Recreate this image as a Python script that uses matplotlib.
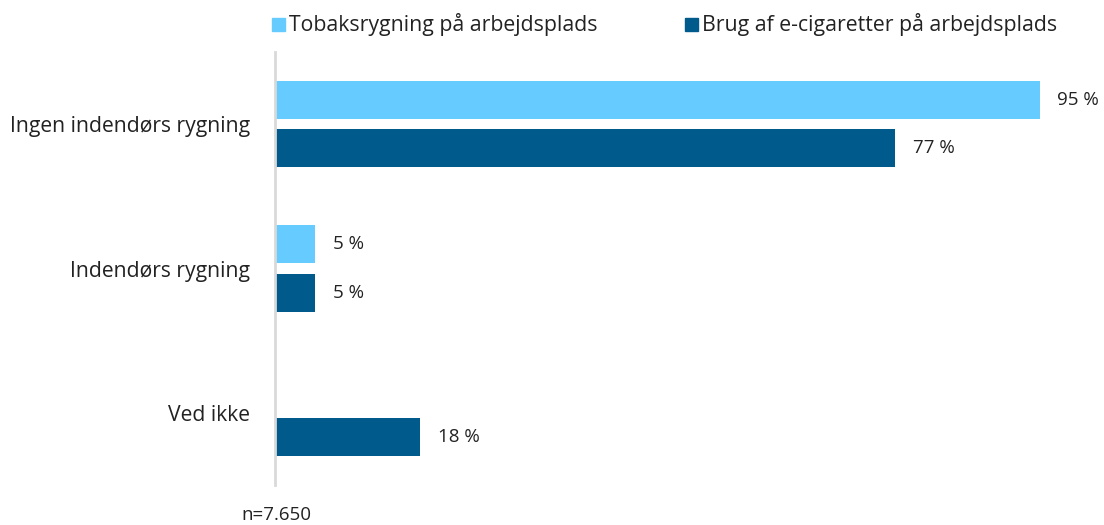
import numpy as np
import matplotlib.pyplot as plt
from matplotlib.patches import Rectangle

plt.rcParams['font.family'] = ['Open Sans', 'DejaVu Sans']

# Data
categories = ['Ingen indendørs rygning', 'Indendørs rygning', 'Ved ikke']
tobak = [95, 5, 0]
ecig = [77, 5, 18]
series_names = ['Tobaksrygning på arbejdsplads', 'Brug af e-cigaretter på arbejdsplads']
colors = ['#66CCFF', '#005B8C']
n_label = 'n=7.650'

fig = plt.figure(figsize=(11.04, 5.25), dpi=100)
W, H = 1104, 525
ax = fig.add_axes([275 / W, 1 - 485 / H, 805 / W, 433 / H])

y = np.arange(len(categories))
h = 0.264
off = 0.167
for vals, col, sign in [(tobak, colors[0], -1), (ecig, colors[1], 1)]:
    for yi, v in zip(y, vals):
        if v == 0:
            continue
        ax.barh(yi + sign * off, v, height=h, color=col)
        ax.text(v + 2.2, yi + sign * off, f'{v} %', va='center', ha='left',
                fontsize=13.5, color='#222222')

ax.set_ylim(len(categories) - 0.5, -0.5)
ax.set_xlim(0, 100)
ax.set_yticks(y)
ax.set_yticklabels(categories, fontsize=15.2, color='#222222')
ax.tick_params(axis='y', length=0, pad=18)
ax.set_xticks([])
for s in ['top', 'right', 'bottom']:
    ax.spines[s].set_visible(False)
ax.spines['left'].set_color('#D9D9D9')
ax.spines['left'].set_linewidth(2)

# legend
leg_x = [272, 685]
for lx, name, col in zip(leg_x, series_names, colors):
    fig.patches.append(Rectangle((lx / W, 1 - 31 / H), 13 / W, 13 / H,
                                 color=col, transform=fig.transFigure))
    fig.text((lx + 17) / W, 1 - 24 / H, name, va='center', ha='left',
             fontsize=15.3, color='#222222')

fig.text(276 / W, 1 - 515 / H, n_label, ha='center', va='center',
         fontsize=13.5, color='#222222')

fig.savefig('out.png', dpi=100)
